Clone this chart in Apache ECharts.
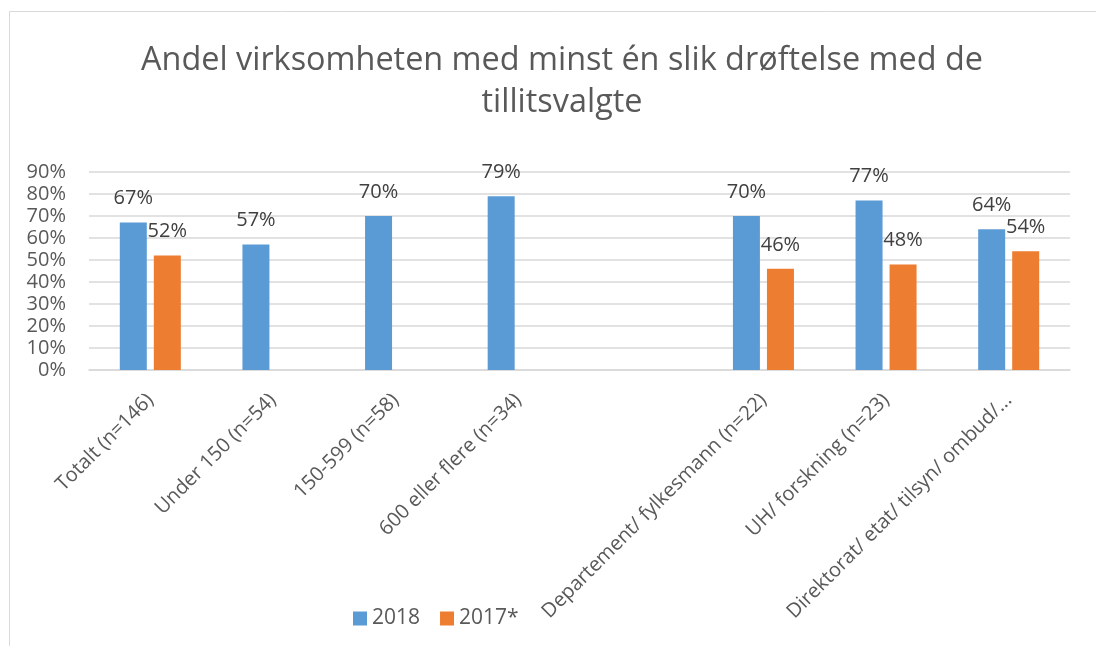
<!DOCTYPE html>
<html>
<head>
<meta charset="utf-8">
<script src="https://cdn.jsdelivr.net/npm/echarts@6/dist/echarts.min.js"></script>
<style>
	html, body { margin: 0; padding: 0; background: #fff; }
	#chart { width: 1096px; height: 646px; }
</style>
</head>
<body>
<div id="chart"></div>
<script>
// kategorier (tom plass mellom størrelse og sektor)
var categories = [
	'Totalt (n=146)',
	'Under 150 (n=54)',
	'150-599 (n=58)',
	'600 eller flere (n=34)',
	'',
	'Departement/ fylkesmann (n=22)',
	'UH/ forskning (n=23)',
	'Direktorat/ etat/ tilsyn/ ombud/...'
]
// andel i prosent
var values2018 = [67, 57, 70, 79, null, 70, 77, 64]
var values2017 = [52, null, null, null, null, 46, 48, 54]
var seriesNames = ['2018', '2017*']
var yTicks = { min: 0, max: 90, interval: 10 }

var font = 'Open Sans'
var textColor = '#595959'

var chart = echarts.init(document.getElementById('chart'))

function barSeries(name, data, color) {
	return {
		name: name,
		type: 'bar',
		data: data,
		barWidth: 27,
		barGap: '26%',
		itemStyle: { color: color },
		label: {
			show: true,
			position: 'top',
			distance: 14,
			formatter: '{c}%',
			fontFamily: font,
			fontSize: 20,
			color: '#404040'
		}
	}
}

var option = {
	animation: false,
	backgroundColor: '#fff',
	graphic: [{
		type: 'rect',
		shape: { x: 9.5, y: 11.5, width: 1200, height: 800 },
		style: { fill: 'none', stroke: '#d9d9d9', lineWidth: 1 },
		silent: true
	}],
	title: {
		text: 'Andel virksomheten med minst én slik drøftelse med de\ntillitsvalgte',
		left: 557,
		top: 35,
		textAlign: 'center',
		textStyle: {
			fontFamily: font,
			fontSize: 32.4,
			fontWeight: 'normal',
			lineHeight: 42,
			color: textColor
		}
	},
	legend: {
		data: seriesNames,
		left: 348,
		top: 603,
		itemWidth: 14,
		itemHeight: 14,
		itemGap: 20,
		icon: 'rect',
		textStyle: { fontFamily: font, fontSize: 21, color: textColor }
	},
	grid: {
		left: 89,
		right: 26,
		top: 172,
		bottom: 276,
		containLabel: false
	},
	xAxis: {
		type: 'category',
		data: categories,
		axisLine: { lineStyle: { color: '#d9d9d9', width: 1.5 } },
		axisTick: { show: false },
		axisLabel: {
			interval: 0,
			rotate: 45,
			margin: 27,
			fontFamily: font,
			fontSize: 20,
			color: textColor
		}
	},
	yAxis: {
		type: 'value',
		min: yTicks.min,
		max: yTicks.max,
		interval: yTicks.interval,
		axisLine: { show: false },
		axisTick: { show: false },
		axisLabel: {
			formatter: '{value}%',
			margin: 23,
			fontFamily: font,
			fontSize: 20,
			color: textColor
		},
		splitLine: { lineStyle: { color: '#d9d9d9', width: 1.5 } }
	},
	series: [
		barSeries(seriesNames[0], values2018, '#5B9BD5'),
		barSeries(seriesNames[1], values2017, '#ED7D31')
	]
}

chart.setOption(option)
</script>
</body>
</html>
